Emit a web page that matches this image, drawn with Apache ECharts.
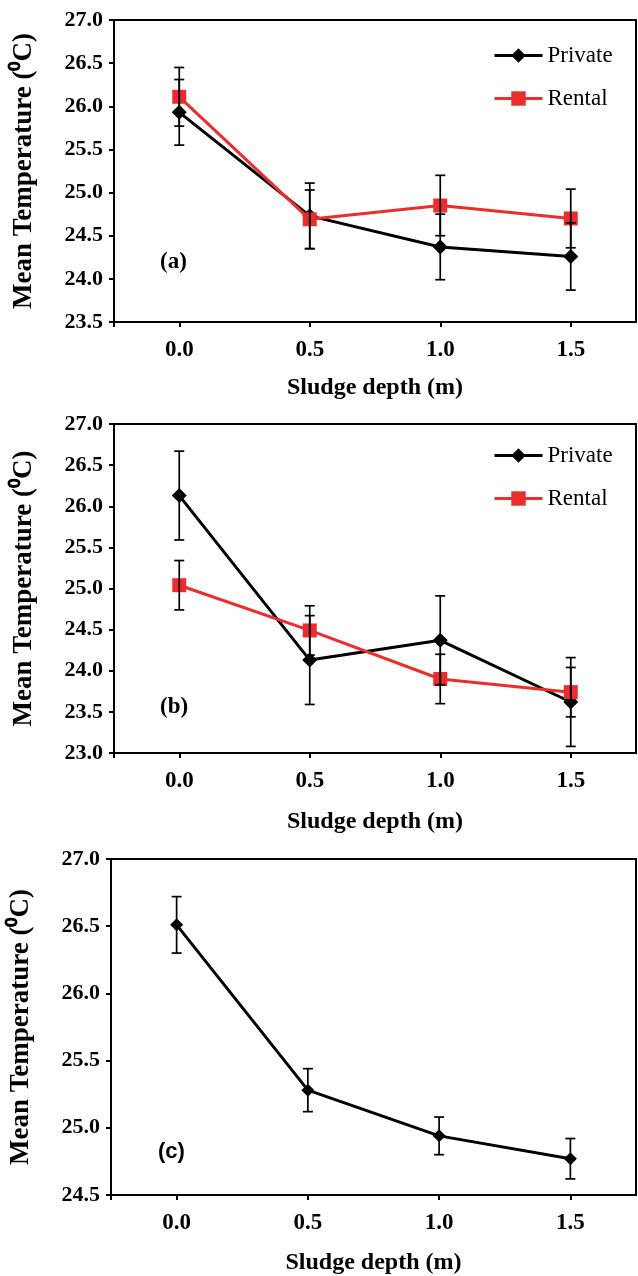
<!DOCTYPE html>
<html>
<head>
<meta charset="utf-8">
<script src="https://cdn.jsdelivr.net/npm/echarts@6/dist/echarts.min.js"></script>
<style>
html,body{margin:0;padding:0;background:#fff;}
#chart{width:638px;height:1276px;}
</style>
</head>
<body>
<div id="chart"></div>
<script>
// ---- data ----
const depths = [0, 0.5, 1.0, 1.5];
const xTickLabels = [0, 0.5, 1.0, 1.5];
const privateA = [25.93, 24.73, 24.37, 24.26];
const privateAErr = [0.38, 0.38, 0.38, 0.39];
const rentalA = [26.11, 24.69, 24.85, 24.70];
const rentalAErr = [0.34, 0.34, 0.35, 0.34];
const privateB = [26.13, 24.13, 24.37, 23.62];
const privateBErr = [0.54, 0.54, 0.54, 0.54];
const rentalB = [25.04, 24.49, 23.90, 23.74];
const rentalBErr = [0.30, 0.30, 0.30, 0.30];
const overallC = [26.51, 25.28, 24.94, 24.77];
const overallCErr = [0.21, 0.16, 0.14, 0.15];
const panelLabels = ['(a)', '(b)', '(c)'];
const seriesNames = ['Private', 'Rental'];

const BLACK = '#000000';
const RED = '#ec2d2d';
const SERIF = '"Liberation Serif", "Times New Roman", serif';

function pts(vals) { return depths.map((d, i) => [d, vals[i]]); }
function errPts(vals, errs) { return depths.map((d, i) => [d, vals[i] - errs[i], vals[i] + errs[i]]); }

function errSeries(idx, vals, errs) {
  return {
    type: 'custom', xAxisIndex: idx, yAxisIndex: idx, z: 5, silent: true,
    data: errPts(vals, errs),
    renderItem: function (params, api) {
      const lo = api.coord([api.value(0), api.value(1)]);
      const hi = api.coord([api.value(0), api.value(2)]);
      const w = 5;
      const st = { stroke: BLACK, lineWidth: 1.7 };
      return {
        type: 'group',
        children: [
          { type: 'line', shape: { x1: lo[0], y1: lo[1], x2: hi[0], y2: hi[1] }, style: st },
          { type: 'line', shape: { x1: lo[0] - w, y1: lo[1], x2: lo[0] + w, y2: lo[1] }, style: st },
          { type: 'line', shape: { x1: hi[0] - w, y1: hi[1], x2: hi[0] + w, y2: hi[1] }, style: st }
        ]
      };
    }
  };
}

function lineSeries(idx, name, vals, color, symbol, size) {
  return {
    type: 'line', name: name, xAxisIndex: idx, yAxisIndex: idx, z: 3,
    data: pts(vals), symbol: symbol, symbolSize: size, showSymbol: true,
    lineStyle: { color: color, width: 3 },
    itemStyle: { color: color, borderWidth: 0 },
    emphasis: { disabled: true }
  };
}

const grids = [
  { left: 114, top: 20, right: 2, height: 302 },
  { left: 114, top: 424, right: 2, height: 329 },
  { left: 111, top: 859, right: 2, height: 336 }
];
const yRanges = [[23.5, 27], [23, 27], [24.5, 27]];
const xNameGaps = [54, 57, 56];

function legendAt(top) {
  return { data: seriesNames, orient: 'vertical', left: 488, top: top, itemWidth: 48, itemHeight: 18, itemGap: 20,
    lineStyle: { width: 3 },
    textStyle: { fontFamily: SERIF, fontSize: 23, color: BLACK }, selectedMode: false };
}

const option = {
  backgroundColor: '#ffffff',
  animation: false,
  grid: grids.map(g => Object.assign({ show: true, borderColor: BLACK, borderWidth: 2, backgroundColor: 'transparent' }, g)),
  xAxis: grids.map((g, i) => ({
    type: 'value', gridIndex: i, min: -0.25, max: 1.75,
    name: 'Sludge depth (m)', nameLocation: 'middle', nameGap: xNameGaps[i],
    nameTextStyle: { fontFamily: SERIF, fontWeight: 'bold', fontSize: 24, color: BLACK },
    axisLine: { show: true, onZero: false, lineStyle: { color: BLACK, width: 2 } },
    axisTick: { show: true, inside: false, length: 5, lineStyle: { color: BLACK, width: 2 }, customValues: [-0.25].concat(xTickLabels) },
    axisLabel: { show: true, margin: 17, fontFamily: SERIF, fontWeight: 'bold', fontSize: 23, color: BLACK,
      customValues: xTickLabels, formatter: v => Number(v).toFixed(1) },
    splitLine: { show: false }
  })),
  yAxis: grids.map((g, i) => ({
    type: 'value', gridIndex: i, min: yRanges[i][0], max: yRanges[i][1], interval: 0.5,
    name: 'Mean Temperature (\u2070C)', nameLocation: 'middle', nameGap: 76,
    nameTextStyle: { fontFamily: SERIF, fontWeight: 'bold', fontSize: 27, color: BLACK },
    axisLine: { show: true, onZero: false, lineStyle: { color: BLACK, width: 2 } },
    axisTick: { show: true, inside: false, length: 5, lineStyle: { color: BLACK, width: 2 } },
    axisLabel: { show: true, margin: 11, fontFamily: SERIF, fontWeight: 'bold', fontSize: 22, color: BLACK,
      formatter: v => Number(v).toFixed(1) },
    splitLine: { show: false }
  })),
  legend: [legendAt(39), legendAt(439)],
  graphic: [
    { type: 'text', left: 160, top: 251, style: { text: panelLabels[0], font: 'bold 23px "Liberation Serif"', fill: BLACK } },
    { type: 'text', left: 160, top: 696, style: { text: panelLabels[1], font: 'bold 23px "Liberation Serif"', fill: BLACK } },
    { type: 'text', left: 158, top: 1141, style: { text: panelLabels[2], font: 'bold 22px "Liberation Sans"', fill: BLACK } }
  ],
  series: [
    lineSeries(0, 'Private', privateA, BLACK, 'diamond', 15),
    lineSeries(0, 'Rental', rentalA, RED, 'rect', 14),
    errSeries(0, privateA, privateAErr),
    errSeries(0, rentalA, rentalAErr),
    lineSeries(1, 'Private', privateB, BLACK, 'diamond', 15),
    lineSeries(1, 'Rental', rentalB, RED, 'rect', 14),
    errSeries(1, privateB, privateBErr),
    errSeries(1, rentalB, rentalBErr),
    lineSeries(2, 'Overall', overallC, BLACK, 'diamond', 13),
    errSeries(2, overallC, overallCErr)
  ]
};

const chart = echarts.init(document.getElementById('chart'), null, { renderer: 'canvas' });
chart.setOption(option);
</script>
</body>
</html>
